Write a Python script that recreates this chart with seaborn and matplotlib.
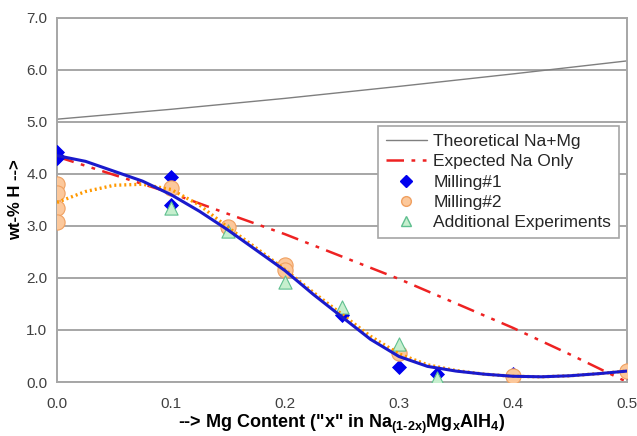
import matplotlib
matplotlib.use("Agg")
import matplotlib.pyplot as plt
import seaborn as sns
import pandas as pd
from matplotlib.lines import Line2D

# ---- data ----
theory_x = [0.0, 0.1, 0.2, 0.3, 0.4, 0.5]
theory_y = [5.05, 5.24, 5.45, 5.68, 5.92, 6.17]

na_only_x = [0.0, 0.05, 0.1, 0.15, 0.2, 0.25, 0.3, 0.35, 0.4, 0.45, 0.5]
na_only_y = [4.33, 3.98, 3.63, 3.23, 2.84, 2.41, 1.98, 1.51, 1.04, 0.53, 0.0]

m1_x = [0.0, 0.0, 0.0, 0.1, 0.1, 0.15, 0.25, 0.3, 0.333, 0.4, 0.5]
m1_y = [4.42, 4.35, 4.30, 3.94, 3.40, 2.93, 1.29, 0.29, 0.15, 0.15, 0.20]

m2_x = [0.0, 0.0, 0.0, 0.0, 0.1, 0.15, 0.2, 0.2, 0.3, 0.4, 0.5]
m2_y = [3.80, 3.63, 3.35, 3.08, 3.72, 2.97, 2.25, 2.15, 0.55, 0.12, 0.21]

add_x = [0.1, 0.15, 0.2, 0.25, 0.3, 0.333]
add_y = [3.34, 2.90, 1.93, 1.45, 0.73, 0.08]

trend_x = [0.0, 0.025, 0.05, 0.075, 0.1, 0.125, 0.15, 0.175, 0.2, 0.225, 0.25,
           0.275, 0.3, 0.325, 0.35, 0.375, 0.4, 0.425, 0.45, 0.475, 0.5]
trend1_y = [4.35, 4.24, 4.05, 3.86, 3.60, 3.28, 2.92, 2.53, 2.14, 1.68, 1.25,
            0.82, 0.49, 0.30, 0.21, 0.15, 0.11, 0.10, 0.12, 0.16, 0.21]
trend2_y = [3.45, 3.66, 3.78, 3.80, 3.70, 3.40, 2.97, 2.57, 2.16, 1.72, 1.30,
            0.88, 0.54, 0.33, 0.22, 0.15, 0.11, 0.10, 0.12, 0.16, 0.21]

y_ticks = [0, 1, 2, 3, 4, 5, 6, 7]
y_ticklabels = ["0.0", "1.0", "2.0", "3.0", "4.0", "5.0", "6.0", "7.0"]
x_ticks = [0.0, 0.1, 0.2, 0.3, 0.4, 0.5]
x_ticklabels = ["0.0", "0.1", "0.2", "0.3", "0.4", "0.5"]

# ---- style ----
sns.set_style("white")
plt.rcParams['font.family'] = ['Liberation Sans', 'DejaVu Sans']
plt.rcParams['mathtext.fontset'] = 'custom'
plt.rcParams['mathtext.bf'] = 'Liberation Sans:bold'
plt.rcParams['mathtext.rm'] = 'Liberation Sans:bold'
plt.rcParams['mathtext.it'] = 'Liberation Sans:bold'
plt.rcParams['mathtext.default'] = 'bf'

fig = plt.figure(figsize=(6.37, 4.36), dpi=100)
ax = fig.add_axes([57/637, 1-382/436, 570/637, (382-17.7)/436])

grid_c = "#a6a6a6"
for v in y_ticks:
    ax.axhline(v, color=grid_c, lw=1.4, zorder=0)

# lines
sns.lineplot(x=theory_x, y=theory_y, ax=ax, color="#7f7f7f", lw=1.0,
             legend=False, zorder=2)
sns.lineplot(x=na_only_x, y=na_only_y, ax=ax, color="#ee2222", lw=1.8,
             legend=False, zorder=2, dashes=False)
ax.lines[-1].set_dashes([7, 3, 1.5, 3, 1.5, 3])

# markers
sns.scatterplot(x=m1_x, y=m1_y, ax=ax, marker="D", s=50, color="#0000ee",
                edgecolor="#0000ee", linewidth=0.6, zorder=3)
sns.scatterplot(x=m2_x, y=m2_y, ax=ax, marker="o", s=120, color="#fcc89b",
                edgecolor="#f0a060", linewidth=0.8, zorder=3)
sns.scatterplot(x=add_x, y=add_y, ax=ax, marker="^", s=90, color="#c6efce",
                edgecolor="#5fbf8f", linewidth=0.8, zorder=4)

# trend lines
sns.lineplot(x=trend_x, y=trend2_y, ax=ax, color="#ff9900", lw=2.4,
             legend=False, zorder=5)
ax.lines[-1].set_linestyle((0, (0.6, 0.9)))
sns.lineplot(x=trend_x, y=trend1_y, ax=ax, color="#1a1acc", lw=2.2,
             legend=False, zorder=6)

ax.set_xlim(0, 0.5)
ax.set_ylim(0, 7)
ax.set_xticks(x_ticks)
ax.set_xticklabels(x_ticklabels)
ax.set_yticks(y_ticks)
ax.set_yticklabels(y_ticklabels)
ax.tick_params(axis='both', colors="#a6a6a6", labelcolor="#404040",
               labelsize=11, length=4, width=1.2, direction='out')
ax.tick_params(axis='x', pad=7)
ax.tick_params(axis='y', pad=3)
for s in ax.spines.values():
    s.set_color(grid_c)
    s.set_linewidth(1.4)

ax.set_xlabel('--> Mg Content ("x" in Na$_{(1\\text{-}2x)}$Mg$_x$AlH$_4$)',
              fontsize=13, fontweight='bold', color='black', labelpad=1)
ax.set_ylabel('wt-% H -->', fontsize=12, fontweight='bold', color='black',
              labelpad=2)

handles = [
    Line2D([], [], color="#7f7f7f", lw=1.0),
    Line2D([], [], color="#ee2222", lw=1.8, dashes=[7, 3, 1.5, 3, 1.5, 3]),
    Line2D([], [], color="#0000ee", marker="D", ls="none", markersize=6),
    Line2D([], [], color="#fcc89b", marker="o", ls="none", markersize=7,
           markeredgecolor="#f0a060"),
    Line2D([], [], color="#c6efce", marker="^", ls="none", markersize=7,
           markeredgecolor="#5fbf8f"),
]
labels = ["Theoretical Na+Mg", "Expected Na Only", "Milling#1", "Milling#2",
          "Additional Experiments"]
leg = ax.legend(handles, labels, loc="upper right",
                bbox_to_anchor=(0.986, 0.703), borderaxespad=0,
                fontsize=12.5, frameon=True, fancybox=False, framealpha=1,
                edgecolor="#a6a6a6", handlelength=2.4, handletextpad=0.35,
                labelspacing=0.3, borderpad=0.45)
leg.get_frame().set_linewidth(1.2)
leg.set_zorder(10)

fig.savefig("out.png", dpi=100)
